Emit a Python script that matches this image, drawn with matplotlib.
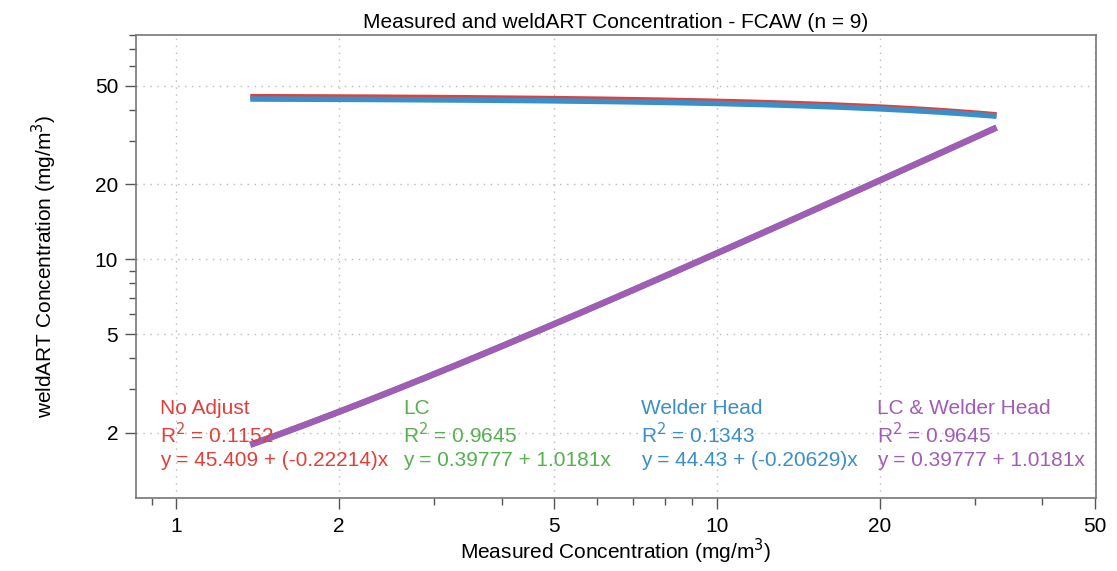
import numpy as np
import matplotlib.pyplot as plt
from matplotlib.ticker import FixedLocator, FixedFormatter, LogLocator, NullFormatter

plt.rcParams['font.family'] = ['Liberation Sans', 'DejaVu Sans']

# fit results
names = ["No Adjust", "LC", "Welder Head", "LC & Welder Head"]
intercepts = [45.409, 0.39777, 44.43, 0.39777]
slopes = [-0.22214, 1.0181, -0.20629, 1.0181]
r2 = [0.1152, 0.9645, 0.1343, 0.9645]
colors = ["#e0403a", "#55b04f", "#3a8fc8", "#a15cb8"]
x_min, x_max = 1.37, 32.9   # range of measured concentrations

fig = plt.figure(figsize=(11.17, 5.71), dpi=100)
ax = fig.add_axes([0.122, 0.127, 0.859, 0.812])

xs = np.geomspace(x_min, x_max, 200)
# draw order: green under purple, red under blue
for i in [1, 3, 0, 2]:
    ys = intercepts[i] + slopes[i] * xs
    ax.plot(xs, ys, color=colors[i], lw=4.5 if i in (1, 3) else 4, solid_capstyle='butt')

ax.set_xscale('log')
ax.set_yscale('log')
ax.set_xlim(0.843, 50.2)
ax.set_ylim(1.09, 80)

xt = [1, 2, 5, 10, 20, 50]
yt = [2, 5, 10, 20, 50]
ax.xaxis.set_major_locator(FixedLocator(xt))
ax.xaxis.set_major_formatter(FixedFormatter([str(v) for v in xt]))
ax.yaxis.set_major_locator(FixedLocator(yt))
ax.yaxis.set_major_formatter(FixedFormatter([str(v) for v in yt]))
ax.xaxis.set_minor_locator(LogLocator(base=10, subs=np.arange(1, 10)))
ax.yaxis.set_minor_locator(LogLocator(base=10, subs=np.arange(1, 10)))
ax.xaxis.set_minor_formatter(NullFormatter())
ax.yaxis.set_minor_formatter(NullFormatter())

ax.tick_params(which='major', direction='out', length=8, width=1, color='#555555', labelsize=15, pad=5)
ax.tick_params(which='minor', direction='out', length=5, width=1, color='#555555')
for s in ax.spines.values():
    s.set_color('#777777')
    s.set_linewidth(1.2)

ax.grid(which='major', linestyle=(0, (1, 4)), color='#bbbbbb', lw=1)

ax.set_title("Measured and weldART Concentration - FCAW (n = 9)", fontsize=15, pad=5)
ax.set_xlabel("Measured Concentration (mg/m$^3$)", fontsize=15, labelpad=1)
ax.set_ylabel("weldART Concentration (mg/m$^3$)", fontsize=15, labelpad=26)

xpos = [0.025, 0.278, 0.526, 0.772]
for i in range(4):
    if slopes[i] < 0:
        eq = "y = %s + (%s)x" % (intercepts[i], slopes[i])
    else:
        eq = "y = %s + %sx" % (intercepts[i], slopes[i])
    ax.text(xpos[i], 0.194, names[i], transform=ax.transAxes, color=colors[i], fontsize=15, va='center')
    ax.text(xpos[i], 0.138, "R$^2$ = %.4f" % r2[i], transform=ax.transAxes, color=colors[i], fontsize=15, va='center')
    ax.text(xpos[i], 0.082, eq, transform=ax.transAxes, color=colors[i], fontsize=15, va='center')

fig.savefig("out.png", dpi=100)
